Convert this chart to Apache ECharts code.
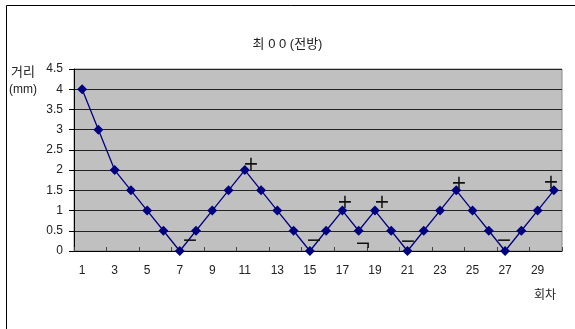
<!DOCTYPE html>
<html>
<head>
<meta charset="utf-8">
<script src="https://cdn.jsdelivr.net/npm/echarts@6/dist/echarts.min.js"></script>
<style>
  html, body { margin: 0; padding: 0; background: #fff; }
  #chart { width: 575px; height: 329px; }
</style>
</head>
<body>
<div id="chart"></div>
<script>
// Round numbers 1..30 and the measured distance (mm) for each round
const rounds = Array.from({ length: 30 }, (_, i) => String(i + 1));
const distances = [4, 3, 2, 1.5, 1, 0.5, 0, 0.5, 1, 1.5,
                   2, 1.5, 1, 0.5, 0, 0.5, 1, 0.5, 1, 0.5,
                   0, 0.5, 1, 1.5, 1, 0.5, 0, 0.5, 1, 1.5];
const yTicks = [0, 0.5, 1, 1.5, 2, 2.5, 3, 3.5, 4, 4.5];

// Sign notes written beside some of the rounds
const noteRounds = ['11', '17', '19', '24', '30', '7', '15', '18', '21', '27'];
const noteValues = [2, 1, 1, 1.5, 1.5, 0, 0, 0, 0, 0];
const noteTexts  = ['+', '+', '+', '+', '+', '−', '−', '¬', '−', '−'];
const noteOffsets = [[6, -5], [3, -8], [7, -8], [3, -6], [-3, -7],
                     [10, -10], [4, -10], [4, -5], [1, -9], [-1, -10]];

const FONT = 'Arial, "Liberation Sans", "Noto Sans CJK KR", sans-serif';

const chart = echarts.init(document.getElementById('chart'), null, { renderer: 'canvas' });

chart.setOption({
  animation: false,
  backgroundColor: '#ffffff',
  textStyle: { fontFamily: FONT },
  title: {
    text: '최 0 0 (전방)',
    left: 'center',
    top: 33,
    textStyle: { fontFamily: FONT, fontSize: 13, fontWeight: 'normal', color: '#222' }
  },
  grid: {
    left: 74, right: 13, top: 69, bottom: 78,
    show: true,
    backgroundColor: '#c0c0c0',
    borderColor: '#8a8a8a',
    borderWidth: 1
  },
  xAxis: {
    type: 'category',
    data: rounds,
    boundaryGap: true,
    axisLine: { lineStyle: { color: '#000', width: 1 } },
    axisTick: { show: true, inside: true, length: 4, lineStyle: { color: '#444' } },
    axisLabel: { interval: 1, color: '#222', fontSize: 12, margin: 14, fontFamily: FONT },
    splitLine: { show: false }
  },
  yAxis: {
    type: 'value',
    min: yTicks[0], max: yTicks[yTicks.length - 1], interval: yTicks[1] - yTicks[0],
    axisLine: { show: true, lineStyle: { color: '#000', width: 1 } },
    axisTick: { show: true, length: 5, lineStyle: { color: '#000' } },
    axisLabel: { color: '#222', fontSize: 12, margin: 11, fontFamily: FONT },
    splitLine: { show: true, lineStyle: { color: '#222', width: 1 } }
  },
  graphic: [
    // outer chart frame (top and left edges)
    { type: 'line', shape: { x1: 6.5, y1: 5.5, x2: 575, y2: 5.5 }, style: { stroke: '#000', lineWidth: 1 } },
    { type: 'line', shape: { x1: 6.5, y1: 5.5, x2: 6.5, y2: 329 }, style: { stroke: '#000', lineWidth: 1 } },
    { type: 'text', left: 11, top: 66, style: { text: '거리', font: '13px ' + FONT, fill: '#222' } },
    { type: 'text', left: 9, top: 84, style: { text: '(mm)', font: '12px ' + FONT, fill: '#222' } },
    { type: 'text', left: 534, top: 290, style: { text: '회차', font: '12px ' + FONT, fill: '#222' } }
  ],
  series: [
    {
      type: 'line',
      data: distances,
      symbol: 'diamond',
      symbolSize: 10,
      lineStyle: { color: '#000080', width: 1.3 },
      itemStyle: { color: '#000080' },
      z: 3
    },
    {
      // sign notes, placed through the axes and nudged beside their point
      type: 'custom',
      silent: true,
      clip: false,
      z: 5,
      data: noteRounds.map((r, i) => [rounds.indexOf(r), noteValues[i], i]),
      renderItem: (params, api) => {
        const i = api.value(2);
        const p = api.coord([api.value(0), api.value(1)]);
        return {
          type: 'text',
          x: Math.round(p[0] + noteOffsets[i][0]),
          y: Math.round(p[1] + noteOffsets[i][1]),
          style: {
            text: noteTexts[i],
            font: '19px "DejaVu Sans", sans-serif',
            fill: '#111',
            align: 'center',
            verticalAlign: 'middle'
          }
        };
      }
    }
  ]
});
</script>
</body>
</html>
